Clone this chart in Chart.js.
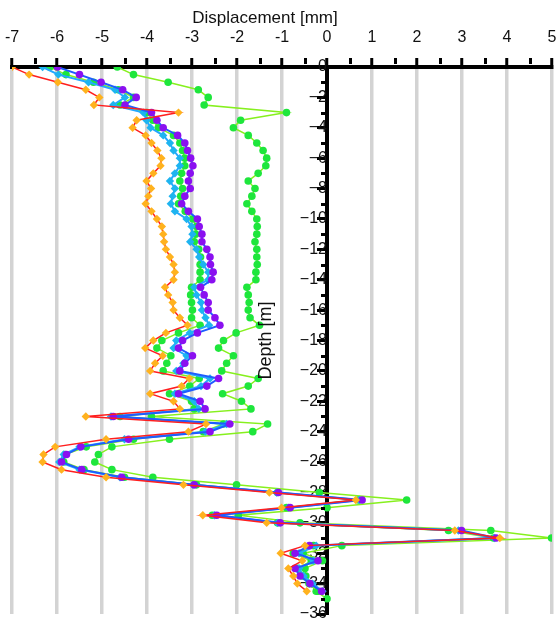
<!DOCTYPE html>
<html>
<head>
<meta charset="utf-8">
<script src="https://cdn.jsdelivr.net/npm/chart.js@4.4.1/dist/chart.umd.min.js"></script>
<style>
  html, body { margin: 0; padding: 0; background: #ffffff; }
  #wrap { position: relative; width: 558px; height: 624px; }
</style>
</head>
<body>
<div id="wrap"><canvas id="chart"></canvas></div>
<script>
// Depth of each reading [m]
const depths = [
  0, -0.5, -1, -1.5, -2, -2.5, -3, -3.5, -4, -4.5, -5, -5.5, -6, -6.5, -7, -7.5, -8, -8.5, -9, -9.5,
  -10, -10.5, -11, -11.5, -12, -12.5, -13, -13.5, -14, -14.5, -15, -15.5, -16, -16.5, -17, -17.5,
  -18, -18.5, -19, -19.5, -20, -20.5, -21, -21.5, -22, -22.5, -23, -23.5, -24, -24.5, -25, -25.5,
  -26, -26.5, -27, -27.5, -28, -28.5, -29, -29.5, -30, -30.5, -31, -31.5, -32, -32.5, -33, -33.5,
  -34, -34.5, -35
];

// Displacement readings [mm], one value per depth
const surveyOrange = [
  -7.00, -6.62, -5.98, -5.36, -5.06, -5.18, -3.30, -4.23, -4.32, -4.03, -3.90, -3.77, -3.68, -3.70, -3.86, -4.01, -3.91, -3.97, -4.03, -3.90,
  -3.78, -3.67, -3.64, -3.62, -3.58, -3.49, -3.41, -3.38, -3.41, -3.60, -3.53, -3.43, -3.41, -3.27, -3.10, -3.58,
  -3.86, -4.04, -3.65, -3.82, -3.93, -3.06, -3.23, -3.93, -3.41, -3.27, -5.36, -2.69, -3.08, -4.91, -6.04, -6.30,
  -6.32, -5.90, -4.91, -3.19, -1.28, 0.64, -1.01, -2.76, -1.34, 2.84, 3.84, -0.49, -1.03, -0.55, -0.86, -0.75,
  -0.66, -0.45
];
const surveyPurple = [
  -5.99, -5.50, -5.02, -4.54, -4.24, -4.49, -3.90, -3.78, -3.64, -3.32, -3.16, -3.10, -3.03, -2.98, -3.04, -3.08, -3.04, -3.16, -3.23, -3.08,
  -2.88, -2.84, -2.78, -2.78, -2.67, -2.60, -2.59, -2.53, -2.56, -2.81, -2.73, -2.64, -2.64, -2.49, -2.38, -2.88,
  -3.21, -3.30, -2.99, -3.16, -3.27, -2.41, -2.67, -3.30, -2.82, -2.71, -4.75, -2.16, -2.60, -4.41, -5.47, -5.79,
  -5.90, -5.45, -4.56, -2.95, -1.08, 0.78, -0.82, -2.45, -1.04, 2.99, 3.76, -0.39, -0.71, -0.20, -0.71, -0.60,
  -0.38, -0.12
];
const surveyCyan = [
  -6.32, -5.97, -5.30, -4.71, -4.49, -4.75, -4.08, -4.01, -3.92, -3.64, -3.49, -3.41, -3.27, -3.27, -3.38, -3.49, -3.38, -3.43, -3.47, -3.38,
  -3.12, -3.01, -2.99, -3.04, -2.90, -2.84, -2.75, -2.64, -2.64, -2.95, -2.90, -2.80, -2.78, -2.70, -2.62, -3.05,
  -3.35, -3.41, -3.12, -3.19, -3.35, -2.60, -2.80, -3.38, -2.95, -2.85, -4.80, -2.23, -2.70, -4.50, -5.50, -5.85,
  -5.95, -5.50, -4.60, -2.98, -1.12, 0.72, -0.86, -2.50, -1.10, 2.92, 3.72, -0.24, -0.62, -0.30, -0.62, -0.52,
  -0.32, -0.10
];
const surveyGreen = [
  -6.16, -5.80, -5.19, -4.64, -4.30, -4.60, -4.00, -3.87, -3.75, -3.41, -3.27, -3.21, -3.16, -3.16, -3.23, -3.27, -3.21, -3.25, -3.30, -3.15,
  -2.98, -2.90, -2.92, -2.95, -2.85, -2.81, -2.82, -2.82, -2.82, -3.01, -3.03, -3.01, -2.99, -3.01, -2.82, -3.30,
  -3.67, -3.78, -3.47, -3.56, -3.64, -2.84, -3.05, -3.50, -3.01, -2.95, -4.60, -2.30, -2.75, -4.30, -5.35, -5.82,
  -5.85, -5.40, -4.50, -2.90, -1.10, 0.70, -0.90, -2.55, -1.10, 2.70, 3.70, -0.30, -0.75, -0.35, -0.65, -0.55,
  -0.40, -0.20
];
const surveyLime = [
  -4.66, -4.30, -3.53, -2.86, -2.64, -2.73, -0.90, -1.92, -2.08, -1.75, -1.56, -1.42, -1.34, -1.36, -1.53, -1.75, -1.60, -1.67, -1.78, -1.67,
  -1.56, -1.55, -1.56, -1.60, -1.56, -1.56, -1.55, -1.58, -1.58, -1.78, -1.75, -1.73, -1.75, -1.71, -1.50, -2.02,
  -2.30, -2.41, -2.08, -2.23, -2.34, -1.53, -1.75, -2.32, -1.90, -1.69, -3.90, -1.32, -1.65, -3.50, -4.78, -5.08,
  -5.16, -4.78, -3.87, -2.01, -0.17, 1.77, 0.00, -1.97, -0.60, 3.64, 4.99, 0.33, -0.53, -0.10, -0.49, -0.47,
  -0.38, -0.24, 0.00
];

// Axis ranges and labels
const displacementTicks = [-7, -6, -5, -4, -3, -2, -1, 0, 1, 2, 3, 4, 5];
const depthRange = [-36, 0];
const xTitle = 'Displacement [mm]';
const yTitle = 'Depth [m]';

const FONT = "'Liberation Sans', Arial, Helvetica, sans-serif";

function toPoints(values) {
  return values.map((v, i) => ({ x: v, y: depths[i] }));
}

function series(values, pointColor, lineColor, style, lineWidth) {
  return {
    data: toPoints(values),
    showLine: true,
    borderColor: lineColor,
    borderWidth: lineWidth,
    backgroundColor: pointColor,
    pointBackgroundColor: pointColor,
    pointBorderColor: pointColor,
    pointBorderWidth: 0,
    pointStyle: style,
    pointRadius: style === 'rectRot' ? 4.2 : 3.8,
    tension: 0
  };
}

// Minor tick marks and the two axis titles
const axisDecor = {
  id: 'axisDecor',
  afterDraw(chart) {
    const { ctx, chartArea, scales } = chart;
    const xs = scales.x, ys = scales.y;
    ctx.save();
    ctx.fillStyle = '#000';
    // half-millimetre ticks on the displacement axis
    for (let i = 0; i < displacementTicks.length - 1; i++) {
      const v = (displacementTicks[i] + displacementTicks[i + 1]) / 2;
      const px = xs.getPixelForValue(v);
      ctx.fillRect(Math.round(px) - 1, chartArea.top - 9, 3, 6);
    }
    // one-metre ticks on the depth axis
    const x0 = xs.getPixelForValue(0);
    for (let d = depthRange[0] + 1; d < depthRange[1]; d += 2) {
      const py = ys.getPixelForValue(d);
      ctx.fillRect(Math.round(x0) - 6, Math.round(py) - 1, 4, 3);
    }
    ctx.fillStyle = '#111';
    ctx.font = '17px ' + FONT;
    ctx.textAlign = 'center';
    ctx.textBaseline = 'middle';
    ctx.fillText(xTitle, (chartArea.left + chartArea.right) / 2 - 17, 18);
    ctx.translate(x0 - 61, (chartArea.top + chartArea.bottom) / 2);
    ctx.rotate(-Math.PI / 2);
    ctx.font = '18px ' + FONT;
    ctx.fillText(yTitle, 0, 0);
    ctx.restore();
  }
};

new Chart(document.getElementById('chart'), {
  type: 'scatter',
  data: {
    datasets: [
      series(surveyOrange, '#ffb21e', '#ff1e1e', 'rectRot', 1.5),
      series(surveyPurple, '#8a10f0', '#1f5cff', 'circle', 2),
      series(surveyCyan, '#1eb4f0', '#24a8ff', 'rectRot', 2),
      series(surveyGreen, '#1ee63c', '#86f01e', 'circle', 1.5),
      series(surveyLime, '#1ee63c', '#86f01e', 'circle', 1.5)
    ]
  },
  options: {
    responsive: true,
    maintainAspectRatio: false,
    animation: false,
    devicePixelRatio: 1,
    layout: { padding: { left: 12, right: 6, top: 29, bottom: 10 } },
    plugins: {
      legend: { display: false },
      tooltip: { enabled: false }
    },
    scales: {
      x: {
        type: 'linear',
        position: 'top',
        min: displacementTicks[0],
        max: displacementTicks[displacementTicks.length - 1],
        afterBuildTicks: (axis) => { axis.ticks = displacementTicks.map(v => ({ value: v })); },
        afterFit: (axis) => { axis.paddingLeft = 0; axis.paddingRight = 0; axis.height = 38; },
        ticks: {
          autoSkip: false,
          maxRotation: 0,
          padding: 11,
          color: '#111',
          font: { family: FONT, size: 16 },
          callback: (v) => String(v)
        },
        grid: {
          color: (c) => (c.tick && c.tick.value === 0) ? 'rgba(0,0,0,0)' : '#d3d3d3',
          lineWidth: 3.5,
          tickColor: '#000',
          tickWidth: 3,
          tickLength: 9
        },
        border: { display: true, color: '#000', width: 4 }
      },
      y: {
        type: 'linear',
        position: { x: 0 },
        min: depthRange[0],
        max: depthRange[1],
        afterFit: (axis) => { axis.paddingTop = 0; axis.paddingBottom = 0; },
        ticks: {
          stepSize: 2,
          padding: 4,
          color: '#111',
          font: { family: FONT, size: 16 },
          callback: (v) => v === 0 ? '0' : '\u2212' + Math.abs(v)
        },
        grid: {
          drawOnChartArea: false,
          color: '#000',
          tickColor: '#000',
          tickWidth: 3,
          tickLength: 8
        },
        border: { display: true, color: '#000', width: 4 }
      }
    }
  },
  plugins: [axisDecor]
});
</script>
</body>
</html>
